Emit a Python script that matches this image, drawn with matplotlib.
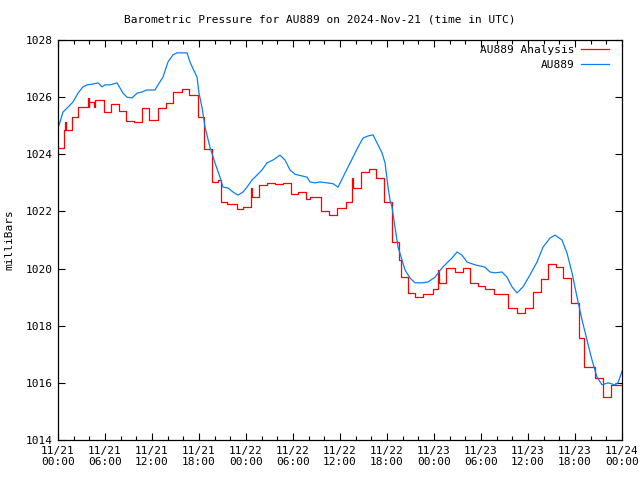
#!/usr/bin/env python
import numpy as np
import matplotlib
matplotlib.use("Agg")
import matplotlib.pyplot as plt
from matplotlib.ticker import MultipleLocator

# hours since 2024-11-21 00:00 UTC
blue_t = [0.00, 0.26, 0.64, 1.28, 1.91, 2.55, 3.19, 3.70, 4.47, 5.11, 5.62, 6.00,
          6.64, 7.53, 7.92, 8.30, 8.81, 9.45, 10.09, 10.72, 11.36, 12.38, 12.77,
          13.40, 14.04, 14.68, 15.19, 16.47, 16.85, 17.23, 17.75, 18.00, 18.38,
          18.77, 19.40, 20.04, 20.68, 21.06, 21.70, 22.34, 22.98, 23.62, 24.13,
          24.77, 25.15, 26.04, 26.68, 27.45, 28.34, 28.98, 29.62, 30.26, 31.79,
          32.17, 32.81, 33.45, 34.34, 35.11, 35.75, 36.38, 37.02, 37.66, 38.30,
          38.94, 39.58, 40.21, 40.73, 41.36, 41.75, 42.13, 42.38, 42.64, 43.02,
          43.41, 43.92, 44.30, 44.94, 45.58, 46.47, 47.24, 48.13, 49.02, 49.66,
          50.30, 50.94, 51.58, 52.21, 53.24, 54.51, 55.15, 55.79, 56.68, 57.32,
          57.96, 58.60, 59.36, 60.26, 61.15, 61.92, 62.81, 63.45, 64.34, 64.98,
          65.62, 66.26, 66.90, 67.53, 68.17, 68.81, 69.45, 70.21, 71.11, 71.49,
          71.87, 72.00]
blue_p = [1024.92, 1025.13, 1025.48, 1025.65, 1025.83, 1026.14, 1026.36, 1026.43,
          1026.46, 1026.50, 1026.36, 1026.43, 1026.43, 1026.50, 1026.32, 1026.14,
          1026.00, 1025.97, 1026.14, 1026.18, 1026.25, 1026.25, 1026.43, 1026.70,
          1027.23, 1027.48, 1027.55, 1027.55, 1027.23, 1027.00, 1026.70, 1026.14,
          1025.65, 1024.95, 1024.25, 1023.70, 1023.20, 1022.85, 1022.82, 1022.68,
          1022.57, 1022.68, 1022.85, 1023.10, 1023.20, 1023.45, 1023.70, 1023.80,
          1023.97, 1023.80, 1023.45, 1023.30, 1023.20, 1023.03, 1023.00, 1023.03,
          1023.00, 1022.97, 1022.85, 1023.20, 1023.55, 1023.90, 1024.25, 1024.57,
          1024.64, 1024.68, 1024.40, 1024.05, 1023.70, 1022.85, 1022.40, 1022.15,
          1021.45, 1020.75, 1020.30, 1019.95, 1019.67, 1019.50, 1019.50, 1019.53,
          1019.70, 1020.02, 1020.20, 1020.37, 1020.58, 1020.47, 1020.23, 1020.13,
          1020.05, 1019.88, 1019.85, 1019.88, 1019.70, 1019.36, 1019.15, 1019.36,
          1019.78, 1020.23, 1020.75, 1021.07, 1021.17, 1021.00, 1020.54, 1019.85,
          1019.00, 1018.20, 1017.50, 1016.80, 1016.20, 1015.93, 1016.00, 1015.93,
          1016.00, 1016.30, 1016.40]

# analysis (step changes)
red_t = [0.00, 0.77, 0.90, 1.00, 1.80, 2.55, 3.80, 3.95, 4.00, 4.65, 4.70, 5.90,
         6.75, 7.80, 8.70, 9.70, 10.70, 11.60, 12.75, 13.80, 14.70, 15.80, 16.70,
         17.90, 18.65, 19.65, 20.40, 20.80, 21.60, 22.85, 23.60, 24.65, 24.75,
         25.65, 26.70, 27.70, 28.70, 29.75, 30.65, 31.65, 32.20, 33.60, 34.60,
         35.60, 36.75, 37.55, 37.65, 38.70, 39.70, 40.60, 41.60, 42.65, 43.50,
         43.80, 44.70, 45.60, 46.60, 47.90, 48.50, 48.60, 49.50, 50.70, 51.70,
         52.60, 53.60, 54.50, 55.70, 57.40, 58.60, 59.60, 60.60, 61.70, 62.60,
         63.60, 64.50, 65.50, 66.50, 67.15, 68.55, 69.60, 70.60, 72.00]
red_p = [1024.22, 1024.85, 1025.13, 1024.85, 1025.30, 1025.65, 1025.97, 1025.65,
         1025.83, 1025.65, 1025.90, 1025.48, 1025.76, 1025.52, 1025.17, 1025.13,
         1025.62, 1025.20, 1025.62, 1025.80, 1026.18, 1026.28, 1026.07, 1025.30,
         1024.18, 1023.03, 1023.10, 1022.33, 1022.26, 1022.08, 1022.15, 1022.82,
         1022.50, 1022.93, 1023.00, 1022.96, 1023.00, 1022.60, 1022.68, 1022.43,
         1022.50, 1022.00, 1021.87, 1022.12, 1022.33, 1023.18, 1022.82, 1023.38,
         1023.48, 1023.17, 1022.33, 1020.93, 1020.30, 1019.70, 1019.15, 1019.00,
         1019.10, 1019.28, 1019.95, 1019.50, 1020.02, 1019.88, 1020.02, 1019.50,
         1019.40, 1019.28, 1019.11, 1018.62, 1018.45, 1018.62, 1019.18, 1019.63,
         1020.16, 1020.05, 1019.67, 1018.80, 1017.57, 1016.55, 1016.17, 1015.50,
         1015.93, 1015.93]

xlabels = ["11/21\n00:00", "11/21\n06:00", "11/21\n12:00", "11/21\n18:00",
           "11/22\n00:00", "11/22\n06:00", "11/22\n12:00", "11/22\n18:00",
           "11/23\n00:00", "11/23\n06:00", "11/23\n12:00", "11/23\n18:00",
           "11/24\n00:00"]

plt.rcParams['font.family'] = 'DejaVu Sans Mono'
plt.rcParams['font.size'] = 8

fig = plt.figure(figsize=(6.4, 4.8), dpi=100)
ax = fig.add_axes([58/640, 40/480, 564/640, 400/480])

ax.plot(red_t, red_p, color='#ff0000', lw=0.9, drawstyle='steps-post',
        label='AU889 Analysis')
ax.plot(blue_t, blue_p, color='#0a80f0', lw=0.9, label='AU889')

ax.set_xlim(0, 72)
ax.set_ylim(1014, 1028)
ax.set_xticks(np.arange(0, 73, 6))
ax.set_xticklabels(xlabels)
ax.xaxis.set_minor_locator(MultipleLocator(2))
ax.set_yticks(np.arange(1014, 1029, 2))
ax.tick_params(which='both', direction='in', top=True, right=True,
               length=5, width=0.8, pad=4)
ax.tick_params(which='minor', length=3)
for s in ax.spines.values():
    s.set_linewidth(0.9)

ax.set_ylabel('milliBars', labelpad=8)
fig.text(0.5, 1 - 20/480, 'Barometric Pressure for AU889 on 2024-Nov-21 (time in UTC)',
         ha='center', va='center', fontsize=8)

ax.legend(loc='upper right', bbox_to_anchor=(0.993, 1.009), frameon=False,
          markerfirst=False, handlelength=2.5, handletextpad=0.6,
          borderaxespad=0.8, borderpad=0.0, labelspacing=0.4, fontsize=8)

fig.savefig('out.png', dpi=100)
